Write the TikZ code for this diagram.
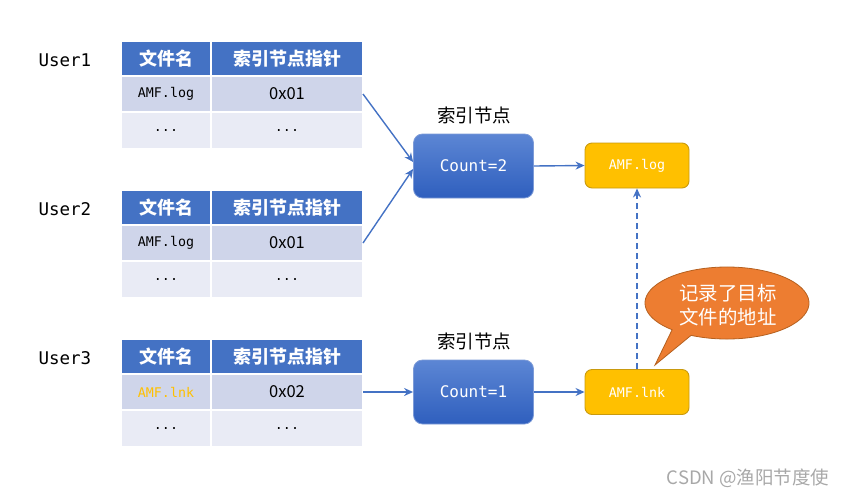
\documentclass[tikz,border=0pt]{standalone}
\usepackage{fontspec}
\setmainfont{Noto Sans CJK SC}
\newfontfamily\cjk{Noto Sans CJK SC}
\newfontfamily\mono{DejaVu Sans Mono}
\usetikzlibrary{arrows.meta,calc}
\definecolor{hdr}{HTML}{4472C4}
\definecolor{rowa}{HTML}{CFD5EA}
\definecolor{rowb}{HTML}{E9EBF5}
\definecolor{lnkcol}{HTML}{FFC000}
\definecolor{ybox}{HTML}{FFC000}
\definecolor{yedge}{HTML}{C99A0E}
\definecolor{orng}{HTML}{ED7D31}
\definecolor{orngedge}{HTML}{B5601F}
\definecolor{ctop}{RGB}{92,134,212}
\definecolor{cbot}{RGB}{47,95,190}
\definecolor{cedge}{RGB}{125,155,215}
\definecolor{wm}{HTML}{A8A8A8}
\tikzset{
  cell/.style={draw=white, line width=2pt, inner sep=0pt, outer sep=0pt, anchor=north west},
  colA/.style={minimum width=90pt},
  colB/.style={minimum width=152pt},
  hd/.style={cell, fill=hdr, minimum height=35pt, text=white, font={\cjk\bfseries\fontsize{18}{20}\selectfont}},
  ra/.style={cell, fill=rowa, minimum height=36pt},
  rb/.style={cell, fill=rowb, minimum height=37pt},
  fname/.style={font={\mono\fontsize{13.3}{15}\selectfont}},
  ptr/.style={font={\cjk\fontsize{16.5}{18}\selectfont}},
  dots/.style={font={\mono\fontsize{13.3}{15}\selectfont}},
  user/.style={anchor=west, font={\mono\fontsize{17.5}{20}\selectfont}},
  countbox/.style={rounded corners=9pt, minimum width=120pt, minimum height=64pt, top color=ctop, bottom color=cbot, draw=cedge, line width=0.8pt, text=white, font={\mono\fontsize{16}{18}\selectfont}},
  filebox/.style={rounded corners=7pt, minimum width=104pt, minimum height=45pt, fill=ybox, draw=yedge, line width=0.9pt, text=white, font={\mono\fontsize{13.3}{15}\selectfont}},
  lbl/.style={font={\cjk\fontsize{18.5}{20}\selectfont}},
  arr/.style={draw=hdr, line width=1.4pt, -{Stealth[length=9pt,width=8pt]}},
}
\begin{document}
\begin{tikzpicture}[x=1pt,y=-1pt]
\useasboundingbox (0,0) rectangle (849,499);
\foreach \k/\o/\u/\fn/\fc/\pv in {1/0/User1/AMF.log/black/0x01, 2/149/User2/AMF.log/black/0x01, 3/298/User3/AMF.lnk/lnkcol/0x02}{
  \node[user] (u\k) at (35,60+\o) {\u};
  \node[hd, colA] (t\k h1) at (121,41+\o) {文件名};
  \node[hd, colB] (t\k h2) at (211,41+\o) {索引节点指针};
  \node[ra, colA, fname, text=\fc] (t\k r1a) at (121,76+\o) {\fn};
  \node[ra, colB, ptr] (t\k r1b) at (211,76+\o) {\pv};
  \node[rb, colA, dots] (t\k r2a) at (121,112+\o) {...};
  \node[rb, colB, dots] (t\k r2b) at (211,112+\o) {...};
}
% index nodes
\node[countbox] (c2) at (473.5,166) {Count=2};
\node[countbox] (c1) at (473.5,392) {Count=1};
\node[lbl] (l2) at (474,115) {索引节点};
\node[lbl] (l1) at (474,341) {索引节点};
% file boxes
\node[filebox] (flog) at (637,165.5) {AMF.log};
\node[filebox] (flnk) at (637,392) {AMF.lnk};
% connectors
\draw[arr] (t1r1b.east) -- ([yshift=4pt]c2.west);
\draw[arr] (t2r1b.east) -- ([yshift=-3pt]c2.west);
\draw[arr] (t3r1b.east) -- (c1.west);
\draw[arr] (c2.east) -- (flog.west);
\draw[arr] (c1.east) -- (flnk.west);
\draw[arr, dash pattern=on 6pt off 4pt] (flnk.north) -- (flog.south);
% callout
\coordinate (ctr) at (727,303);
\coordinate (tip) at (655,365);
\draw[fill=orng, draw=orngedge, line width=0.8pt]
  (tip) -- ($(ctr)+(116:82 and 36)$)
  arc[start angle=116, end angle=-228, x radius=82, y radius=36] -- cycle;
\node[align=center, text=white, font={\cjk\fontsize{19.4}{24}\selectfont}] (note) at (728,305) {记录了目标\\文件的地址};
% watermark
\node[text=wm, font={\cjk\fontsize{18.5}{20}\selectfont}] (wmk) at (748,478) {CSDN @渔阳节度使};
\end{tikzpicture}
\end{document}
